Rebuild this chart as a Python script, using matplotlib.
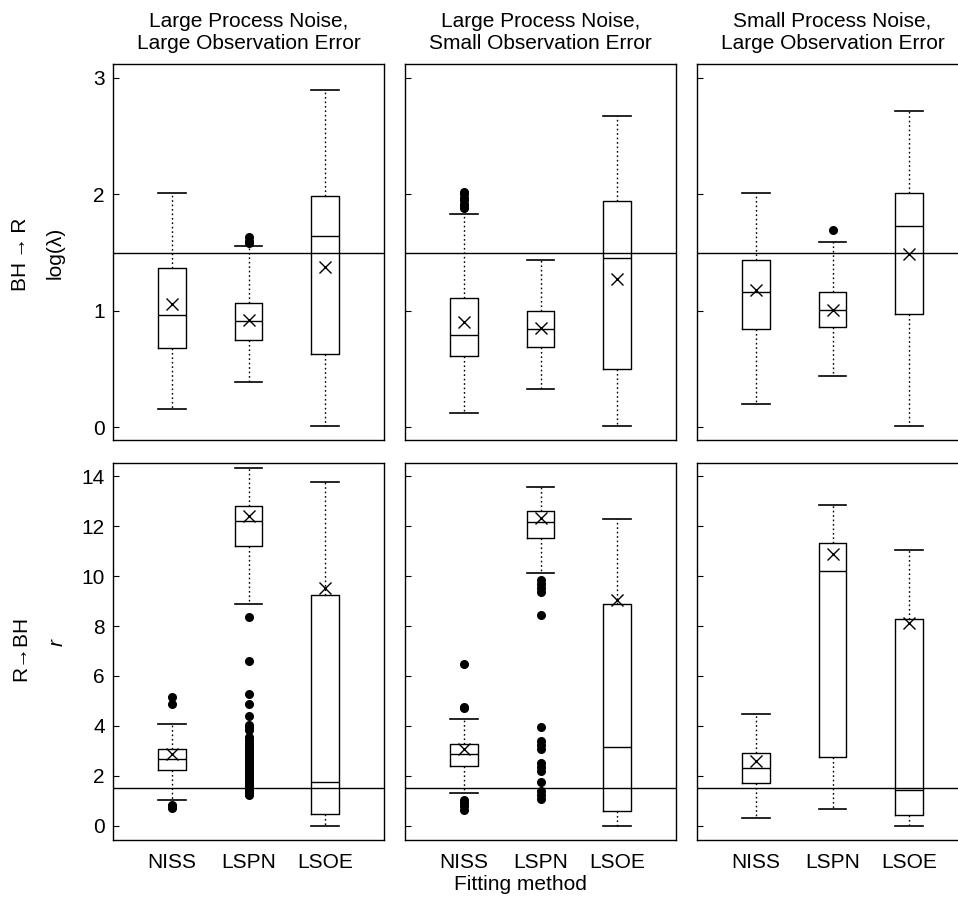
import matplotlib
matplotlib.use("Agg")
import matplotlib.pyplot as plt

plt.rcParams['font.family'] = ['Liberation Sans', 'DejaVu Sans']

methods = ['NISS', 'LSPN', 'LSOE']
col_titles = ['Large Process Noise,\nLarge Observation Error',
              'Large Process Noise,\nSmall Observation Error',
              'Small Process Noise,\nLarge Observation Error']

# ---- Top row: BH -> R, log(lambda) ; one list per column (NISS, LSPN, LSOE)
top_whislo = [[0.16, 0.39, 0.01], [0.12, 0.33, 0.01], [0.20, 0.44, 0.01]]
top_q1     = [[0.68, 0.75, 0.63], [0.61, 0.69, 0.50], [0.84, 0.86, 0.97]]
top_med    = [[0.96, 0.91, 1.64], [0.79, 0.84, 1.45], [1.16, 1.01, 1.73]]
top_q3     = [[1.37, 1.07, 1.99], [1.11, 1.00, 1.94], [1.44, 1.16, 2.01]]
top_whishi = [[2.01, 1.56, 2.90], [1.83, 1.44, 2.67], [2.01, 1.59, 2.72]]
top_mean   = [[1.06, 0.92, 1.38], [0.90, 0.85, 1.27], [1.18, 1.01, 1.49]]
top_fliers = [
    [[], [1.58, 1.60, 1.63], []],
    [[1.88, 1.90, 1.92, 1.95, 1.97, 2.00, 2.02], [], []],
    [[], [1.69], []],
]

# ---- Bottom row: R -> BH, r
bot_whislo = [[1.05, 8.88, 0.01], [1.30, 10.11, 0.01], [0.32, 0.69, 0.01]]
bot_q1     = [[2.23, 11.21, 0.49], [2.39, 11.54, 0.61], [1.72, 2.74, 0.43]]
bot_med    = [[2.66, 12.21, 1.76], [2.87, 12.18, 3.17], [2.32, 10.22, 1.43]]
bot_q3     = [[3.06, 12.80, 9.23], [3.27, 12.62, 8.90], [2.93, 11.34, 8.27]]
bot_whishi = [[4.06, 14.31, 13.77], [4.29, 13.55, 12.28], [4.46, 12.84, 11.05]]
bot_mean   = [[2.86, 12.42, 9.54], [3.07, 12.32, 9.04], [2.60, 10.87, 8.14]]
bot_fliers = [
    [[0.70, 0.75, 0.80, 0.84, 4.86, 5.14],
     [1.23, 1.28, 1.33, 1.38, 1.43, 1.50, 1.55, 1.60, 1.68, 1.75, 1.83, 1.90,
      1.98, 2.05, 2.13, 2.20, 2.28, 2.35, 2.43, 2.50, 2.58, 2.66, 2.74, 2.82,
      2.90, 2.98, 3.06, 3.14, 3.22, 3.30, 3.43, 3.57, 3.85, 3.95, 4.03, 4.38,
      4.88, 5.28, 6.61, 8.35],
     []],
    [[0.65, 0.80, 0.90, 1.03, 4.70, 4.75, 6.47],
     [1.06, 1.23, 1.39, 1.74, 2.20, 2.36, 2.50, 3.06, 3.23, 3.41, 3.97, 8.44,
      9.38, 9.51, 9.68, 9.84],
     []],
    [[], [], []],
]

ref_top = 1.5
ref_bot = 1.5
top_ticks = [0, 1, 2, 3]
bot_ticks = [0, 2, 4, 6, 8, 10, 12, 14]

W, H = 958, 899
fig = plt.figure(figsize=(W / 100, H / 100), dpi=100)

col_left = [113, 405, 697]
ax_w = 271
rows = [(64, 440), (463, 840)]

FS = 15

boxprops = dict(color='black', linewidth=1.0)
whiskerprops = dict(color='black', linewidth=1.0, linestyle=(0, (1.2, 2.0)))
capprops = dict(color='black', linewidth=1.2)
medianprops = dict(color='black', linewidth=1.0)
meanprops = dict(marker='x', markeredgecolor='black', markersize=8, markeredgewidth=1.0)
flierprops = dict(marker='o', markerfacecolor='black', markeredgecolor='black', markersize=5.5)

def make_stats(r, c):
    if r == 0:
        wl, q1, md, q3, wh, mn, fl = top_whislo, top_q1, top_med, top_q3, top_whishi, top_mean, top_fliers
    else:
        wl, q1, md, q3, wh, mn, fl = bot_whislo, bot_q1, bot_med, bot_q3, bot_whishi, bot_mean, bot_fliers
    stats = []
    for k in range(3):
        stats.append(dict(whislo=wl[c][k], q1=q1[c][k], med=md[c][k], q3=q3[c][k],
                          whishi=wh[c][k], mean=mn[c][k], fliers=fl[c][k], label=methods[k]))
    return stats

for r, (yt, yb) in enumerate(rows):
    for c in range(3):
        x0 = col_left[c]
        ax = fig.add_axes([x0 / W, 1 - yb / H, ax_w / W, (yb - yt) / H])
        stats = make_stats(r, c)
        ax.bxp(stats, positions=[1, 2, 3], widths=0.36, capwidths=0.36, showmeans=True,
               boxprops=boxprops, whiskerprops=whiskerprops, capprops=capprops,
               medianprops=medianprops, meanprops=meanprops, flierprops=flierprops,
               manage_ticks=False)
        ax.axhline(ref_top if r == 0 else ref_bot, color='black', linewidth=1.0, zorder=0)
        ax.set_xlim(0.23, 3.77)
        if r == 0:
            ax.set_ylim(-0.11, 3.12)
            ax.set_yticks(top_ticks)
        else:
            ax.set_ylim(-0.57, 14.53)
            ax.set_yticks(bot_ticks)
        ax.tick_params(axis='y', direction='in', length=4, width=0.8, labelsize=FS, pad=6)
        if c != 0:
            ax.tick_params(axis='y', labelleft=False)
        if r == 1:
            ax.set_xticks([1, 2, 3])
            ax.set_xticklabels(methods)
            ax.tick_params(axis='x', length=0, labelsize=FS, pad=9)
        else:
            ax.set_xticks([])
        for s in ax.spines.values():
            s.set_linewidth(1.0)
        if r == 0:
            ax.set_title(col_titles[c], fontsize=FS, pad=11, linespacing=1.2)

fig.text(21 / W, 1 - 254 / H, 'BH\u2009\u2192\u2009R', rotation=90, ha='center', va='center', fontsize=FS)
fig.text(55 / W, 1 - 253 / H, 'log(\u03bb)', rotation=90, ha='center', va='center', fontsize=FS)
fig.text(21 / W, 1 - 648 / H, 'R\u2192BH', rotation=90, ha='center', va='center', fontsize=FS)
fig.text(57 / W, 1 - 643 / H, 'r', rotation=90, ha='center', va='center', fontsize=FS, style='italic')
fig.text(520 / W, 1 - 885 / H, 'Fitting method', ha='center', va='center', fontsize=FS)

fig.savefig('out.png', dpi=100)
